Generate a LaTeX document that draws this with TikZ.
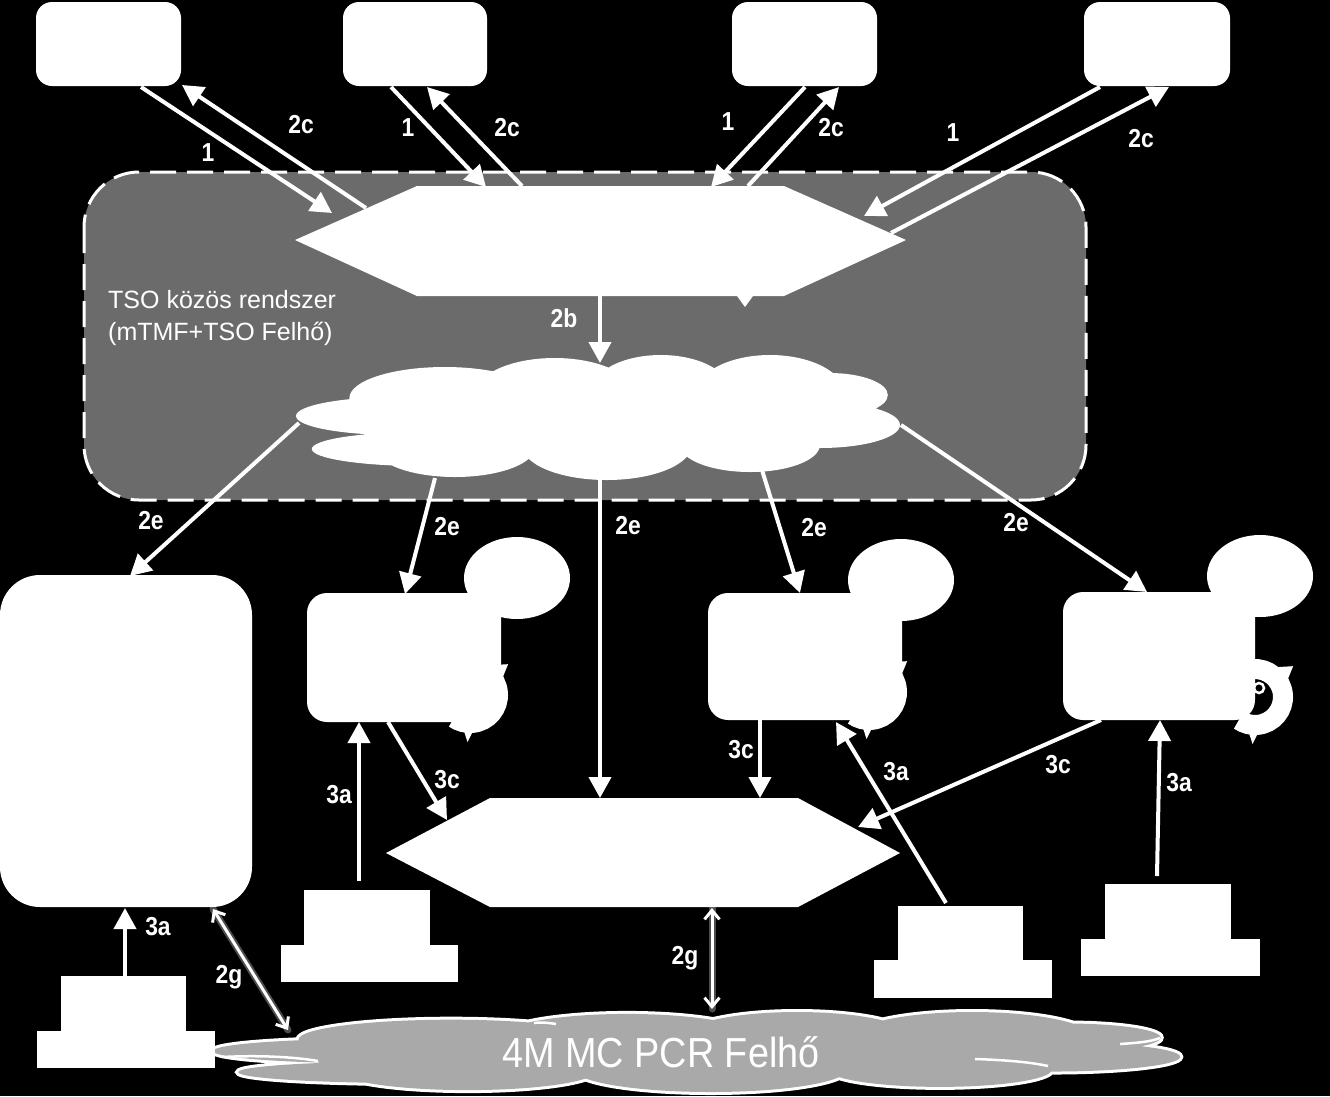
\documentclass[tikz,border=0pt]{standalone}
\usepackage{fontspec}
\setmainfont{Liberation Sans}
\newfontfamily\lblfont[FakeStretch=0.88]{Liberation Sans}
\newfontfamily\pcrfont[FakeStretch=0.9]{Liberation Sans}
\usetikzlibrary{arrows.meta,calc,shapes.geometric}
\definecolor{tsogray}{HTML}{6B6B6B}
\definecolor{pcrgray}{HTML}{A9A9A9}
\newcommand{\cloudlobes}{%
 (0.165,0.488) ellipse [x radius=0.165, y radius=0.152]
 (0.206,0.752) ellipse [x radius=0.180, y radius=0.136]
 (0.245,0.344) ellipse [x radius=0.157, y radius=0.248]
 (0.426,0.320) ellipse [x radius=0.132, y radius=0.296]
 (0.601,0.296) ellipse [x radius=0.115, y radius=0.296]
 (0.781,0.320) ellipse [x radius=0.124, y radius=0.320]
 (0.879,0.320) ellipse [x radius=0.096, y radius=0.176]
 (0.863,0.560) ellipse [x radius=0.132, y radius=0.184]
 (0.748,0.720) ellipse [x radius=0.115, y radius=0.216]
 (0.512,0.720) ellipse [x radius=0.140, y radius=0.280]
 (0.262,0.736) ellipse [x radius=0.132, y radius=0.240]
 (0.500,0.480) ellipse [x radius=0.410, y radius=0.360]}
\newcommand{\ringarrow}[1]{%
 \draw[white, line width=20pt] ($(#1)+(-95:28)$) arc[start angle=-95, end angle=125, radius=28];
 \fill[white] ($(#1)+(-58:35)$) -- ($(#1)+(-28:37)$) -- ($(#1)+(-39:49)$) -- cycle;
 \fill[white] ($(#1)+(84:35)$) -- ($(#1)+(100:36)$) -- ($(#1)+(93:47)$) -- cycle;
}
\tikzset{
 tbox/.style={fill=white, rounded corners=16pt, minimum height=84pt, inner sep=0pt},
 mbox/.style={fill=white, rounded corners=20pt, inner sep=0pt},
 ped/.style={fill=white, inner sep=0pt},
 blob/.style={ellipse, fill=white, minimum width=106pt, minimum height=82pt, inner sep=0pt},
 arr/.style={draw=white, line width=4pt, -{Triangle[length=21pt,width=22pt]}},
 dbl/.style={draw=white, line width=3pt, {Straight Barb[length=9pt,width=15pt]}-{Straight Barb[length=9pt,width=15pt]}},
 glow/.style={draw=white, line width=7pt, opacity=0.3, line cap=round},
 lbl/.style={text=white, inner sep=0pt, font=\lblfont\bfseries\fontsize{26}{30}\selectfont},
 tsotext/.style={text=white, inner sep=0pt, font=\fontsize{25}{30}\selectfont},
 pcrtext/.style={text=white, inner sep=0pt, font=\pcrfont\fontsize{42}{46}\selectfont},
}
\begin{document}
\begin{tikzpicture}[x=1pt,y=-1pt]
\useasboundingbox (0,0) rectangle (1330,1096);
\fill[black] (0,0) rectangle (1330,1096);

% ---------- top boxes
\node[tbox, minimum width=145pt] (b1) at (108.5,44) {};
\node[tbox, minimum width=144pt] (b2) at (415,44) {};
\node[tbox, minimum width=145pt] (b3) at (804.5,44) {};
\node[tbox, minimum width=146pt] (b4) at (1157,44) {};

% ---------- TSO common system frame
\draw[fill=tsogray, draw=white, line width=3pt, dash pattern=on 26pt off 11pt, rounded corners=55pt] (84,172) rectangle (1086,500);
\node[tsotext, anchor=base west] (tso1) at (108,308) {TSO közös rendszer};
\node[tsotext, anchor=base west] (tso2) at (108,340) {(mTMF+TSO Felhő)};

% top hexagon
\fill[white] (295,240) -- (417,186) -- (784,186) -- (906,240) -- (784,296) -- (417,296) -- cycle;
\coordinate (hx1) at (600,241);
\fill[white] (737,296) -- (753,296) -- (745,307) -- cycle;

% TSO cloud
\begin{scope}[shift={(296,355)}, xscale=607, yscale=125]
 \fill[white] \cloudlobes;
\end{scope}
\coordinate (cl1) at (600,420);

% ---------- top connectors
\coordinate (t1a) at (141,87);   \coordinate (t1b) at (332,213);
\coordinate (t1c) at (366,208);  \coordinate (t1d) at (182,85);
\coordinate (t2a) at (391,87);   \coordinate (t2b) at (486,187);
\coordinate (t2c) at (522,186);  \coordinate (t2d) at (427,87);
\coordinate (t3a) at (805,87);   \coordinate (t3b) at (711,187);
\coordinate (t3c) at (748,186);  \coordinate (t3d) at (839,87);
\coordinate (t4a) at (1100,87);  \coordinate (t4b) at (864,216);
\coordinate (t4c) at (891,233);  \coordinate (t4d) at (1169,87);
\draw[arr] (t1a) -- (t1b);
\draw[arr] (t1c) -- (t1d);
\draw[arr] (t2a) -- (t2b);
\draw[arr] (t2c) -- (t2d);
\draw[arr] (t3a) -- (t3b);
\draw[arr] (t3c) -- (t3d);
\draw[arr] (t4a) -- (t4b);
\draw[arr] (t4c) -- (t4d);
\node[lbl] (l1a) at (208,153) {1};
\node[lbl] (l1b) at (301,125) {2c};
\node[lbl] (l2a) at (408,128) {1};
\node[lbl] (l2b) at (507,128) {2c};
\node[lbl] (l3a) at (728,122) {1};
\node[lbl] (l3b) at (831,128) {2c};
\node[lbl] (l4a) at (953,133) {1};
\node[lbl] (l4b) at (1141,139) {2c};

% 2b
\coordinate (hx1s) at (600,296);
\coordinate (cl1n) at (600,363);
\draw[arr] (hx1s) -- (cl1n);
\node[lbl] (l2bb) at (564,318) {2b};

% ---------- lower part
% left big box
\node[fill=white, rounded corners=40pt, minimum width=252pt, minimum height=332pt, inner sep=0pt] (lbox) at (126,741) {};

% circular arrows (behind the boxes)
\coordinate (r1) at (470,695);
\coordinate (r2) at (869,692);
\coordinate (r3) at (1255,697);
\ringarrow{r1}
\ringarrow{r2}
\ringarrow{r3}
\draw[white, line width=2.5pt] (1259,688) circle (5);

% middle boxes with bubbles
\node[blob] (e1) at (517,578) {};
\node[blob] (e2) at (901,580) {};
\node[blob] (e3) at (1260,576) {};
\node[mbox, minimum width=194pt, minimum height=129pt] (m1) at (404,657.5) {};
\node[mbox, minimum width=194pt, minimum height=127pt] (m2) at (805,656.5) {};
\node[mbox, minimum width=192pt, minimum height=128pt] (m3) at (1159,656) {};

% bottom hexagon
\fill[white] (386,853) -- (490,798) -- (798,798) -- (900,853) -- (798,907) -- (490,907) -- cycle;
\coordinate (hx2) at (643,853);

% bottom cloud
\begin{scope}[shift={(213,1012)}, xscale=972, yscale=80]
 \draw[white, line width=6pt] \cloudlobes;
 \fill[pcrgray] \cloudlobes;
\end{scope}
\draw[white, line width=2.5pt] (222,1057) .. controls (260,1055) and (295,1057) .. (318,1061);
\draw[white, line width=2.5pt] (975,1059) .. controls (1005,1060) and (1030,1062) .. (1048,1066);
\draw[white, line width=2.5pt] (1120,1044) .. controls (1135,1043) and (1150,1042) .. (1160,1038);
\draw[white, line width=2.5pt] (534,1023) .. controls (542,1022) and (550,1023) .. (556,1024);
\node[pcrtext] (pcr) at (661,1052) {4M MC PCR Felhő};

% pedestals
\node[ped, minimum width=125pt, minimum height=55pt] (p1u) at (123.5,1003.5) {};
\node[ped, minimum width=178pt, minimum height=37pt] (p1l) at (126,1049.5) {};
\node[ped, minimum width=126pt, minimum height=55pt] (p2u) at (367,917.5) {};
\node[ped, minimum width=177pt, minimum height=37pt] (p2l) at (369.5,963.5) {};
\node[ped, minimum width=125pt, minimum height=54pt] (p3u) at (960.5,933) {};
\node[ped, minimum width=178pt, minimum height=38pt] (p3l) at (963,979) {};
\node[ped, minimum width=126pt, minimum height=55pt] (p4u) at (1168,911.5) {};
\node[ped, minimum width=179pt, minimum height=37pt] (p4l) at (1170.5,957.5) {};

% 2e connectors
\coordinate (c1w) at (299,423);   \coordinate (lbn) at (130,576);
\coordinate (c1s1) at (435,478);  \coordinate (m1n) at (405,594);
\coordinate (c1s2) at (600,480);  \coordinate (hx2n) at (600,798);
\coordinate (c1s3) at (762,470);  \coordinate (m2n) at (800,593);
\coordinate (c1e) at (901,425);   \coordinate (m3n) at (1147,592);
\draw[arr] (c1w) -- (lbn);
\draw[arr] (c1s1) -- (m1n);
\draw[arr] (c1s2) -- (hx2n);
\draw[arr] (c1s3) -- (m2n);
\draw[arr] (c1e) -- (m3n);
\node[lbl] (le1) at (151,521) {2e};
\node[lbl] (le2) at (447,527) {2e};
\node[lbl] (le3) at (628,526) {2e};
\node[lbl] (le4) at (814,528) {2e};
\node[lbl] (le5) at (1016,523) {2e};

% 3a connectors
\coordinate (p1n) at (125,976);   \coordinate (lbs) at (125,908);
\coordinate (p2n) at (359,881);   \coordinate (m1s) at (359,722);
\coordinate (p3n) at (946,903);   \coordinate (m2s) at (836,722);
\coordinate (p4n) at (1157,876);  \coordinate (m3s) at (1160,720);
\draw[arr] (p1n) -- (lbs);
\draw[arr] (p2n) -- (m1s);
\draw[arr] (p3n) -- (m2s);
\draw[arr] (p4n) -- (m3s);
\node[lbl] (la1) at (158,927) {3a};
\node[lbl] (la2) at (339,795) {3a};
\node[lbl] (la3) at (896,772) {3a};
\node[lbl] (la4) at (1179,783) {3a};

% 3c connectors
\coordinate (m1se) at (388,722);  \coordinate (hx2w) at (447,820);
\coordinate (m2sc) at (760,720);  \coordinate (hx2nc) at (760,798);
\coordinate (m3sw) at (1101,720); \coordinate (hx2e) at (858,827);
\draw[arr] (m1se) -- (hx2w);
\draw[arr] (m2sc) -- (hx2nc);
\draw[arr] (m3sw) -- (hx2e);
\node[lbl] (lc1) at (447,780) {3c};
\node[lbl] (lc2) at (741,750) {3c};
\node[lbl] (lc3) at (1058,765) {3c};

% 2g connectors
\coordinate (lbse) at (213,909);  \coordinate (cl2w) at (288,1030);
\coordinate (hx2s) at (712,908);  \coordinate (cl2n) at (712,1009);
\draw[glow] (lbse) -- (cl2w);
\draw[glow] (hx2s) -- (cl2n);
\draw[dbl] (lbse) -- (cl2w);
\draw[dbl] (hx2s) -- (cl2n);
\node[lbl] (lg1) at (229,977) {2g};
\node[lbl] (lg2) at (685,958) {2g};
\end{tikzpicture}
\end{document}
